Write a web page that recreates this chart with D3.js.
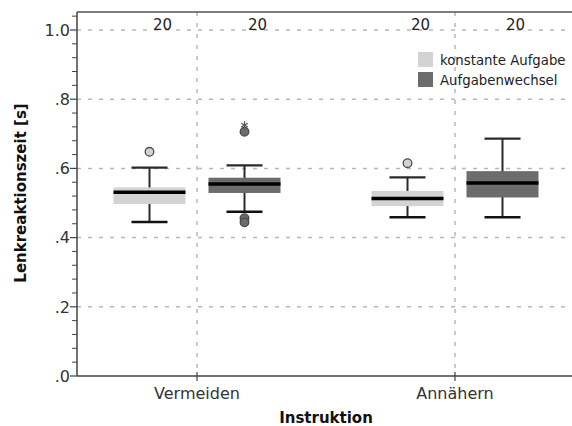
<!DOCTYPE html>
<html>
<head>
<meta charset="utf-8">
<script src="https://cdn.jsdelivr.net/npm/d3@7"></script>
<style>
  html, body { margin: 0; padding: 0; background: #fff; }
  svg { display: block; font-family: "DejaVu Sans", sans-serif; }
</style>
</head>
<body>
<svg id="chart" width="572" height="426"></svg>
<script>
// Instruction conditions on the x axis and task conditions as grouped boxes
const categories = ["Vermeiden", "Annähern"];
const seriesNames = ["konstante Aufgabe", "Aufgabenwechsel"];
const seriesColors = ["#d3d3d3", "#6c6c6c"];

// Box statistics, one array per series, one value per instruction
const whiskerLowKonst = [0.445, 0.459];
const q1Konst = [0.497, 0.491];
const medianKonst = [0.531, 0.513];
const q3Konst = [0.545, 0.535];
const whiskerHighKonst = [0.602, 0.574];

const whiskerLowWechsel = [0.475, 0.459];
const q1Wechsel = [0.529, 0.516];
const medianWechsel = [0.555, 0.558];
const q3Wechsel = [0.573, 0.592];
const whiskerHighWechsel = [0.609, 0.686];

// Outliers (circles) and extreme values (asterisks)
const outliersKonst = [[0.648], [0.615]];
const outliersWechsel = [[0.706, 0.456, 0.444], []];
const extremesKonst = [[], []];
const extremesWechsel = [[0.725], []];

// Sample sizes shown above each box
const nKonst = [20, 20];
const nWechsel = [20, 20];

const yTicks = [0, 0.2, 0.4, 0.6, 0.8, 1.0];
const yTickLabels = [".0", ".2", ".4", ".6", ".8", "1.0"];

const boxes = [];
categories.forEach((c, i) => {
  boxes.push({cat: c, series: 0, lo: whiskerLowKonst[i], q1: q1Konst[i], med: medianKonst[i], q3: q3Konst[i], hi: whiskerHighKonst[i], out: outliersKonst[i], ext: extremesKonst[i], n: nKonst[i]});
  boxes.push({cat: c, series: 1, lo: whiskerLowWechsel[i], q1: q1Wechsel[i], med: medianWechsel[i], q3: q3Wechsel[i], hi: whiskerHighWechsel[i], out: outliersWechsel[i], ext: extremesWechsel[i], n: nWechsel[i]});
});

const svg = d3.select("#chart");
const plotLeft = 77, plotTop = 12, plotBottom = 376, plotRight = 580;

const y = d3.scaleLinear().domain([0, 1.052]).range([plotBottom, plotTop]);
const x = d3.scalePoint().domain(categories).range([197, 455]);
const xs = d3.scaleBand().domain([0, 1]).range([-95, 95]);
const boxW = 72, capW = 36;
const cx = d => x(d.cat) + xs(d.series) + xs.bandwidth() / 2;

// Grid lines
svg.append("g").selectAll("line").data(yTicks.filter(t => t > 0)).join("line")
  .attr("x1", plotLeft).attr("x2", plotRight)
  .attr("y1", d => y(d)).attr("y2", d => y(d))
  .attr("stroke", "#b8b8b8").attr("stroke-width", 1.5).attr("stroke-dasharray", "4,7");
svg.append("g").selectAll("line").data(categories).join("line")
  .attr("x1", d => x(d)).attr("x2", d => x(d))
  .attr("y1", plotTop).attr("y2", plotBottom)
  .attr("stroke", "#b8b8b8").attr("stroke-width", 1.5).attr("stroke-dasharray", "4,7");

// Frame: top line
svg.append("line").attr("x1", plotLeft).attr("x2", plotRight).attr("y1", plotTop).attr("y2", plotTop)
  .attr("stroke", "#555").attr("stroke-width", 1.5);

// Y axis with minor ticks
const yAxisG = svg.append("g").attr("transform", `translate(${plotLeft},0)`);
yAxisG.append("line").attr("x1", 0).attr("x2", 0).attr("y1", plotTop).attr("y2", plotBottom)
  .attr("stroke", "#444").attr("stroke-width", 1.5);
const minor = d3.range(0, 1.041, 0.04).filter(v => !yTicks.some(t => Math.abs(t - v) < 1e-6));
yAxisG.selectAll("line.minor").data(minor).join("line").attr("class", "minor")
  .attr("x1", -5).attr("x2", 0).attr("y1", d => y(d)).attr("y2", d => y(d))
  .attr("stroke", "#444").attr("stroke-width", 1);
yAxisG.selectAll("line.major").data(yTicks).join("line").attr("class", "major")
  .attr("x1", -7).attr("x2", 0).attr("y1", d => y(d)).attr("y2", d => y(d))
  .attr("stroke", "#444").attr("stroke-width", 1.2);
yAxisG.selectAll("text").data(yTicks).join("text")
  .attr("x", -7).attr("y", d => y(d)).attr("dy", "0.36em")
  .attr("text-anchor", "end").attr("font-size", 16).attr("fill", "#333")
  .text((d, i) => yTickLabels[i]);

// X axis
const xAxisG = svg.append("g").attr("transform", `translate(0,${plotBottom})`);
xAxisG.append("line").attr("x1", plotLeft).attr("x2", plotRight).attr("y1", 0).attr("y2", 0)
  .attr("stroke", "#444").attr("stroke-width", 1.5);
xAxisG.selectAll("line.tick").data(categories).join("line").attr("class", "tick")
  .attr("x1", d => x(d)).attr("x2", d => x(d)).attr("y1", -4).attr("y2", 5)
  .attr("stroke", "#444").attr("stroke-width", 1.2);
xAxisG.selectAll("text").data(categories).join("text")
  .attr("x", d => x(d)).attr("y", 23).attr("text-anchor", "middle")
  .attr("font-size", 16).attr("fill", "#333").text(d => d);

// Axis titles
svg.append("text").attr("x", 326).attr("y", 423).attr("text-anchor", "middle")
  .attr("font-size", 15).attr("font-weight", "bold").attr("fill", "#111").text("Instruktion");
svg.append("text").attr("transform", "translate(26,193) rotate(-90)").attr("text-anchor", "middle")
  .attr("font-size", 15).attr("font-weight", "bold").attr("fill", "#111").text("Lenkreaktionszeit [s]");

// Boxplots
const g = svg.append("g").selectAll("g").data(boxes).join("g");
g.append("line").attr("x1", cx).attr("x2", cx).attr("y1", d => y(d.lo)).attr("y2", d => y(d.hi))
  .attr("stroke", "#2a2a2a").attr("stroke-width", 2);
g.append("line").attr("x1", d => cx(d) - capW / 2).attr("x2", d => cx(d) + capW / 2)
  .attr("y1", d => y(d.hi)).attr("y2", d => y(d.hi)).attr("stroke", "#2a2a2a").attr("stroke-width", 2.2);
g.append("line").attr("x1", d => cx(d) - capW / 2).attr("x2", d => cx(d) + capW / 2)
  .attr("y1", d => y(d.lo)).attr("y2", d => y(d.lo)).attr("stroke", "#111").attr("stroke-width", 2.5);
g.append("rect").attr("x", d => cx(d) - boxW / 2).attr("width", boxW)
  .attr("y", d => y(d.q3)).attr("height", d => y(d.q1) - y(d.q3))
  .attr("fill", d => seriesColors[d.series]);
g.append("line").attr("x1", d => cx(d) - boxW / 2).attr("x2", d => cx(d) + boxW / 2)
  .attr("y1", d => y(d.med)).attr("y2", d => y(d.med)).attr("stroke", "#000").attr("stroke-width", 3.5);
g.selectAll("circle").data(d => d.out.map(v => ({v, d}))).join("circle")
  .attr("cx", o => cx(o.d)).attr("cy", o => y(o.v)).attr("r", 4.3)
  .attr("fill", o => seriesColors[o.d.series]).attr("stroke", "#4a4a4a").attr("stroke-width", 1.3);
g.selectAll("path.ext").data(d => d.ext.map(v => ({v, d}))).join("path").attr("class", "ext")
  .attr("d", d3.symbol(d3.symbolAsterisk, 40))
  .attr("transform", o => `translate(${cx(o.d)},${y(o.v)})`)
  .attr("fill", "none").attr("stroke", "#555").attr("stroke-width", 1.2);

// Sample sizes
g.append("text").attr("x", d => cx(d) + 13).attr("y", 29.5).attr("text-anchor", "middle")
  .attr("font-size", 15).attr("fill", "#222").text(d => d.n);

// Legend
const leg = svg.append("g").selectAll("g").data(seriesNames).join("g")
  .attr("transform", (d, i) => `translate(418,${52 + i * 20})`);
leg.append("rect").attr("width", 15).attr("height", 15).attr("fill", (d, i) => seriesColors[i]);
leg.append("text").attr("x", 22).attr("y", 13).attr("font-size", 13.3).attr("fill", "#222").text(d => d);
</script>
</body>
</html>
